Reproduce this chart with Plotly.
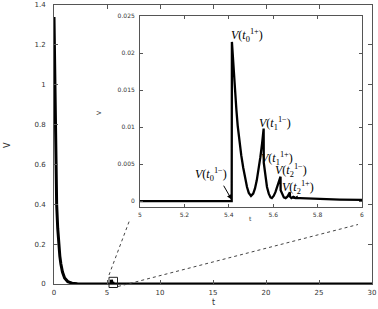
import plotly.graph_objects as go

# ---- data ----
# initial decay (main panel)
t_decay = [0, 0.03, 0.06, 0.1, 0.16, 0.25, 0.35, 0.44, 0.55, 0.65, 0.8, 1.0, 1.3, 1.7, 2.2, 3.0, 5.0]
v_decay = [1.34, 1.2, 1.0, 0.8, 0.6, 0.4, 0.28, 0.2, 0.14, 0.1, 0.06, 0.03, 0.012, 0.004, 0.001, 0.0, 0.0]

# impulsive part (inset window 5..6)
t_imp = [5.0, 5.413, 5.414, 5.42, 5.427, 5.434, 5.44, 5.448, 5.456, 5.465, 5.474, 5.482, 5.49,
         5.5, 5.51, 5.518, 5.526, 5.534, 5.542, 5.55, 5.557,
         5.5575, 5.565, 5.572, 5.58, 5.588, 5.594, 5.602, 5.61, 5.618, 5.626, 5.633,
         5.6335, 5.64, 5.648, 5.656, 5.664, 5.67, 5.675,
         5.6755, 5.682, 5.688, 5.693, 5.6935, 5.70, 5.706, 5.7065, 5.72, 5.75, 5.8, 5.9, 6.0]
v_imp = [0.0, 0.0, 0.0215, 0.0183, 0.0152, 0.0124, 0.0102, 0.0080, 0.0062, 0.0045, 0.0030, 0.0019, 0.0011,
         0.0007, 0.0010, 0.0017, 0.0028, 0.0042, 0.0059, 0.0078, 0.0098,
         0.0052, 0.0032, 0.0019, 0.0010, 0.0005, 0.0004, 0.0007, 0.0012, 0.0019, 0.0026, 0.0033,
         0.00146, 0.0009, 0.0005, 0.0004, 0.0006, 0.0009, 0.0012,
         0.0006, 0.0004, 0.0005, 0.00064, 0.00045, 0.0004, 0.0005, 0.0004, 0.0004, 0.00035, 0.0003, 0.0002, 0.00015]

# tail
t_tail = [6.0, 10, 20, 30]
v_tail = [0.00015, 0.0, 0.0, 0.0]

main_x_ticks = [0, 5, 10, 15, 20, 25, 30]
main_y_ticks = [0, 0.2, 0.4, 0.6, 0.8, 1.0, 1.2, 1.4]
main_y_labels = ["0", "0.2", "0.4", "0.6", "0.8", "1", "1.2", "1.4"]
ins_x_ticks = [5, 5.2, 5.4, 5.6, 5.8, 6]
ins_y_ticks = [0, 0.005, 0.01, 0.015, 0.02, 0.025]

labels = [
    ("<i>V</i>(<i>t</i><sub>0</sub><sup>1+</sup>)", 5.483, 0.0223),
    ("<i>V</i>(<i>t</i><sub>1</sub><sup>1−</sup>)", 5.607, 0.01054),
    ("<i>V</i>(<i>t</i><sub>1</sub><sup>1+</sup>)", 5.615, 0.00578),
    ("<i>V</i>(<i>t</i><sub>2</sub><sup>1−</sup>)", 5.678, 0.0041),
    ("<i>V</i>(<i>t</i><sub>2</sub><sup>1+</sup>)", 5.713, 0.00183),
    ("<i>V</i>(<i>t</i><sub>0</sub><sup>1−</sup>)", 5.32, 0.0036),
]

t_all = t_decay + t_imp[1:] + t_tail[1:]
v_all = v_decay + v_imp[1:] + v_tail[1:]

W, H = 378, 309
ML, MR, MT, MB = 54, 6, 5, 25
PW, PH = W - ML - MR, H - MT - MB

def px(xp):
    return (xp - ML) / PW

def py(yp):
    return (H - MB - yp) / PH

fig = go.Figure()
fig.add_trace(go.Scatter(x=t_all, y=v_all, mode="lines",
                         line=dict(color="black", width=3), xaxis="x", yaxis="y",
                         showlegend=False, hoverinfo="skip"))
fig.add_trace(go.Scatter(x=t_imp, y=v_imp, mode="lines",
                         line=dict(color="black", width=2.3, shape="linear"), xaxis="x2", yaxis="y2",
                         showlegend=False, hoverinfo="skip"))

axcol = "#555"
tickfont = dict(family="DejaVu Sans", size=7, color="#333")
smallfont = dict(family="DejaVu Sans", size=6, color="#333")

fig.update_layout(
    width=W, height=H,
    margin=dict(l=ML, r=MR, t=MT, b=MB, autoexpand=False),
    paper_bgcolor="white", plot_bgcolor="white",
    xaxis=dict(domain=[0, 1], range=[0, 30], tickvals=main_x_ticks,
               ticks="inside", ticklen=4, tickcolor=axcol, showline=True, linecolor=axcol,
               linewidth=1, mirror="ticks", showgrid=False, zeroline=False,
               tickfont=tickfont, ticklabelstandoff=2),
    yaxis=dict(domain=[0, 1], range=[0, 1.4], tickvals=main_y_ticks, ticktext=main_y_labels,
               ticks="inside", ticklen=4, tickcolor=axcol, showline=True, linecolor=axcol,
               linewidth=1, mirror="ticks", showgrid=False, zeroline=False,
               tickfont=tickfont, ticklabelstandoff=6),
    xaxis2=dict(domain=[px(140), px(362)], range=[5, 6], tickvals=ins_x_ticks,
                ticktext=["5", "5.2", "5.4", "5.6", "5.8", "6"],
                anchor="y2", ticks="inside", ticklen=3, tickcolor=axcol, showline=True,
                linecolor=axcol, linewidth=1, mirror="ticks", showgrid=False, zeroline=False,
                tickfont=smallfont, ticklabelstandoff=2),
    yaxis2=dict(domain=[py(207), py(16)], range=[-0.0008, 0.025], tickvals=ins_y_ticks,
                ticktext=["0", "0.005", "0.01", "0.015", "0.02", "0.025"],
                anchor="x2", ticks="inside", ticklen=3, tickcolor=axcol, showline=True,
                linecolor=axcol, linewidth=1, mirror="ticks", showgrid=False, zeroline=False,
                tickfont=smallfont, ticklabelstandoff=3),
)

# zoom box and connector lines
fig.add_shape(type="rect", xref="paper", yref="paper",
              x0=px(109), x1=px(117.5), y0=py(287.5), y1=py(277.3),
              line=dict(color="#222", width=1))
fig.add_shape(type="line", xref="paper", yref="paper",
              x0=px(109), y0=py(275), x1=px(129.5), y1=py(220.5),
              line=dict(color="#444", width=1, dash="dot"))
fig.add_shape(type="line", xref="paper", yref="paper",
              x0=px(118), y0=py(286.5), x1=px(358), y1=py(224.5),
              line=dict(color="#444", width=1, dash="dot"))

# axis titles
titlefont = dict(family="DejaVu Sans", size=8, color="#333")
fig.add_annotation(text="V", xref="paper", yref="paper", x=px(7), y=py(145),
                   xanchor="center", yanchor="middle",
                   showarrow=False, textangle=-90, font=titlefont)
fig.add_annotation(text="t", xref="paper", yref="paper", x=px(213), y=py(302),
                   xanchor="center", yanchor="middle",
                   showarrow=False, font=titlefont)
fig.add_annotation(text="V", xref="paper", yref="paper", x=px(98), y=py(113),
                   xanchor="center", yanchor="middle",
                   showarrow=False, textangle=-90, font=smallfont)
fig.add_annotation(text="t", xref="paper", yref="paper", x=px(250), y=py(218),
                   xanchor="center", yanchor="middle",
                   showarrow=False, font=smallfont)

# curve labels
for txt, xx, yy in labels:
    fig.add_annotation(text=txt, x=xx, y=yy, xref="x2", yref="y2", showarrow=False,
                       xanchor="center", yanchor="middle",
                       font=dict(family="Liberation Serif", size=12, color="black"))

# arrow to V(t0^{1-})
fig.add_annotation(text="", x=5.413, y=0.0002, xref="x2", yref="y2",
                   ax=5.373, ay=0.00228, axref="x2", ayref="y2",
                   showarrow=True, arrowhead=2, arrowsize=1, arrowwidth=1, arrowcolor="black")

fig.write_html("out.html")
